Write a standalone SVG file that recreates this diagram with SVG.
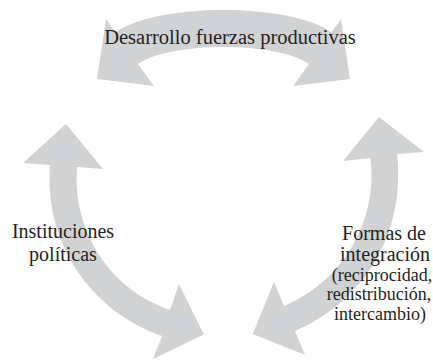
<svg xmlns="http://www.w3.org/2000/svg" width="433" height="362" viewBox="0 0 433 362">
<style>
.arrow{fill:#d1d2d4;stroke:none}
text{font-family:'Liberation Serif','DejaVu Serif',serif;fill:#231f20;text-anchor:middle}
.big{font-size:20px}
.small{font-size:18px}
</style>
<rect width="433" height="362" fill="#ffffff"/>
<g id="connectors">
<path class="arrow" d="M97,79 L106,19 L115.6,32.4 C157,2.6 290,2.6 331.4,32.4 L341,19 L350,79 L293,86 L309,64 C277.3,41.3 169.7,41.3 138,64 L154,86 Z"/>
<path class="arrow" d="M66,124 L103,169 L77,167 C72.2,231.5 109.4,288.7 170,310 L179,284 L203.8,334.6 L153,359 L162,336 C89.6,310.6 44.2,242 50,165 L23,163 Z"/>
<path class="arrow" d="M379,117 L343,161 L370.5,158 C377.9,221.6 342.9,281 284,306 L274,282 L252.7,334 L305,355 L295,331 C365.8,300.9 405.9,230.5 397,154 L424,152 Z"/>
</g>
<g id="node-desarrollo">
<text class="big" x="230" y="44" style="font-size:20.5px">Desarrollo fuerzas productivas</text>
</g>
<g id="node-instituciones">
<text class="big" x="63" y="238">Instituciones</text>
<text class="big" x="63" y="261">políticas</text>
</g>
<g id="node-formas">
<text class="big" x="384" y="240">Formas de</text>
<text class="big" x="385" y="261">integración</text>
<text class="small" x="382" y="281">(reciprocidad,</text>
<text class="small" x="379" y="300">redistribución,</text>
<text class="small" x="380" y="320">intercambio)</text>
</g>
</svg>
